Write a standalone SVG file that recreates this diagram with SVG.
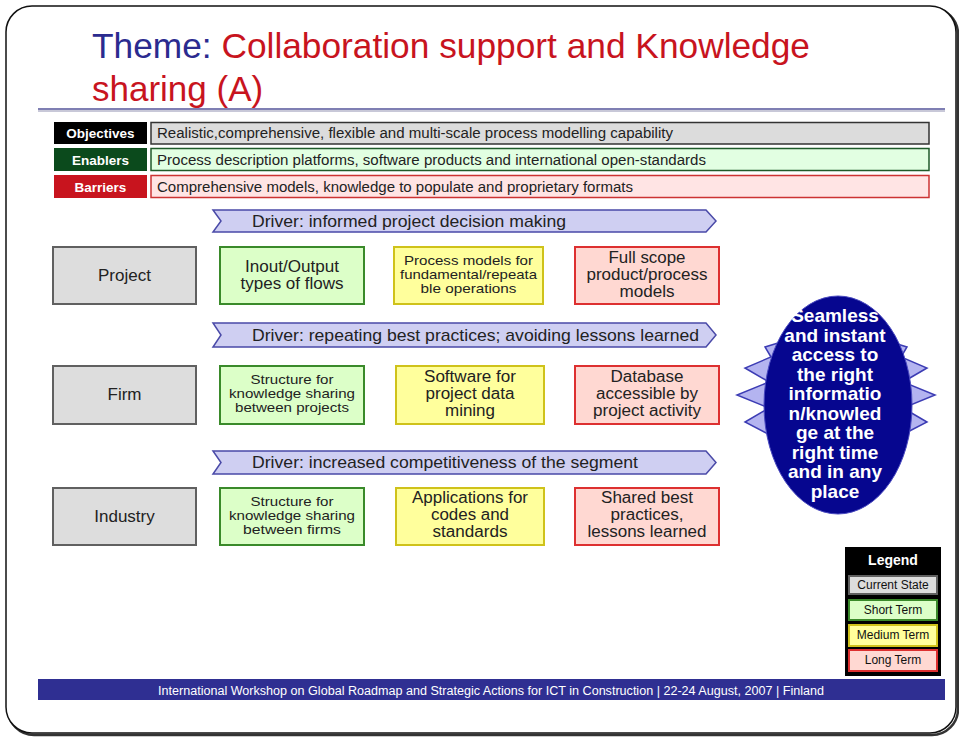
<svg xmlns="http://www.w3.org/2000/svg" width="959" height="738" viewBox="0 0 959 738">
<style>
text{font-family:"Liberation Sans",Arial,sans-serif}
.lbl{font-size:13.5px;font-weight:bold;fill:#fff;text-anchor:middle}
.row{font-size:14px;fill:#222}
.drv{fill:#cfcff2;stroke:#4a4aa8;stroke-width:1.5}
.drvt{font-size:17px;fill:#222}
.cur{fill:#dddddd;stroke:#606060;stroke-width:2}
.st{fill:#dcffc8;stroke:#3a8a2a;stroke-width:2}
.mt{fill:#ffff9c;stroke:#cfc21a;stroke-width:2}
.lt{fill:#ffd8d2;stroke:#dd3030;stroke-width:2}
.t17{font-size:17px;fill:#222;text-anchor:middle}
.t16{font-size:16px;fill:#222;text-anchor:middle}
.t13{font-size:13.5px;fill:#222;text-anchor:middle}
.oval{font-size:19px;font-weight:bold;fill:#fff;text-anchor:middle}
.leg{font-size:12px;fill:#111;text-anchor:middle}
</style>
<rect x="0" y="0" width="959" height="738" fill="#fff"/>
<rect x="8" y="8" width="950" height="727" rx="26" fill="none" stroke="#333" stroke-width="2.5"/>
<rect x="6" y="6" width="950" height="727" rx="26" fill="#fff" stroke="#111" stroke-width="1.5"/>

<g id="title">
<text x="92" y="58" font-size="35" fill="#2b2b8f" textLength="718" lengthAdjust="spacingAndGlyphs">Theme: <tspan fill="#c8141e">Collaboration support and Knowledge</tspan></text>
<text x="92" y="101" font-size="35" fill="#c8141e">sharing (A)</text>
<line x1="38" y1="111" x2="945" y2="111" stroke="#c8c8d8" stroke-width="2"/>
<line x1="38" y1="109" x2="945" y2="109" stroke="#55559a" stroke-width="1.5"/>
</g>

<g id="objectives">
<rect x="54" y="122" width="93" height="22" fill="#000"/>
<text class="lbl" x="100.5" y="138">Objectives</text>
<rect x="151" y="122.5" width="778" height="21.5" fill="#dcdcdc" stroke="#333" stroke-width="1.5"/>
<text class="row" x="157" y="138" textLength="516" lengthAdjust="spacingAndGlyphs">Realistic,comprehensive, flexible and multi-scale process modelling capability</text>
</g>
<g id="enablers">
<rect x="54" y="148" width="93" height="23" fill="#0b4a1c"/>
<text class="lbl" x="100.5" y="165">Enablers</text>
<rect x="151" y="148.5" width="778" height="22" fill="#e2ffe2" stroke="#1f5a2a" stroke-width="1.5"/>
<text class="row" x="157" y="165" textLength="549" lengthAdjust="spacingAndGlyphs">Process description platforms, software products and international open-standards</text>
</g>
<g id="barriers">
<rect x="54" y="175" width="93" height="23" fill="#c8141e"/>
<text class="lbl" x="100.5" y="192">Barriers</text>
<rect x="151" y="175.5" width="778" height="22" fill="#ffe4e4" stroke="#cc3333" stroke-width="1.5"/>
<text class="row" x="157" y="192" textLength="476" lengthAdjust="spacingAndGlyphs">Comprehensive models, knowledge to populate and proprietary formats</text>
</g>

<g id="driver1">
<polygon class="drv" points="213,210 706,210 716,221 706,232 213,232 221,221"/>
<text class="drvt" x="252" y="227" textLength="314" lengthAdjust="spacingAndGlyphs">Driver: informed project decision making</text>
</g>
<g id="driver2">
<polygon class="drv" points="213,323 706,323 716,335 706,347 213,347 221,335"/>
<text class="drvt" x="252" y="341" textLength="447" lengthAdjust="spacingAndGlyphs">Driver: repeating best practices; avoiding lessons learned</text>
</g>
<g id="driver3">
<polygon class="drv" points="213,451 706,451 716,462.5 706,474 213,474 221,462.5"/>
<text class="drvt" x="252" y="468" textLength="386" lengthAdjust="spacingAndGlyphs">Driver: increased competitiveness of the segment</text>
</g>

<g id="project">
<rect class="cur" x="53" y="247" width="143" height="57"/>
<text class="t17" x="124.5" y="281">Project</text>
</g>
<g id="project-short">
<rect class="st" x="220" y="247" width="144" height="57"/>
<text class="t16" x="292" y="272" textLength="94" lengthAdjust="spacingAndGlyphs">Inout/Output</text>
<text class="t16" x="292" y="289" textLength="103" lengthAdjust="spacingAndGlyphs">types of flows</text>
</g>
<g id="project-medium">
<rect class="mt" x="394" y="247" width="149" height="57"/>
<text class="t13" x="468.5" y="265" textLength="129" lengthAdjust="spacingAndGlyphs">Process models for</text>
<text class="t13" x="468.5" y="279" textLength="137" lengthAdjust="spacingAndGlyphs">fundamental/repeata</text>
<text class="t13" x="468.5" y="293" textLength="96" lengthAdjust="spacingAndGlyphs">ble operations</text>
</g>
<g id="project-long">
<rect class="lt" x="575" y="247" width="144" height="57"/>
<text class="t16" x="647" y="263" textLength="77" lengthAdjust="spacingAndGlyphs">Full scope</text>
<text class="t16" x="647" y="280" textLength="121" lengthAdjust="spacingAndGlyphs">product/process</text>
<text class="t16" x="647" y="297" textLength="55" lengthAdjust="spacingAndGlyphs">models</text>
</g>

<g id="firm">
<rect class="cur" x="53" y="366" width="143" height="58"/>
<text class="t17" x="124.5" y="400">Firm</text>
</g>
<g id="firm-short">
<rect class="st" x="220" y="366" width="144" height="58"/>
<text class="t13" x="292" y="384" textLength="83" lengthAdjust="spacingAndGlyphs">Structure for</text>
<text class="t13" x="292" y="398" textLength="126" lengthAdjust="spacingAndGlyphs">knowledge sharing</text>
<text class="t13" x="292" y="412" textLength="114" lengthAdjust="spacingAndGlyphs">between projects</text>
</g>
<g id="firm-medium">
<rect class="mt" x="396" y="366" width="148" height="58"/>
<text class="t16" x="470" y="382" textLength="92" lengthAdjust="spacingAndGlyphs">Software for</text>
<text class="t16" x="470" y="399" textLength="89" lengthAdjust="spacingAndGlyphs">project data</text>
<text class="t16" x="470" y="416" textLength="50" lengthAdjust="spacingAndGlyphs">mining</text>
</g>
<g id="firm-long">
<rect class="lt" x="575" y="366" width="144" height="58"/>
<text class="t16" x="647" y="382" textLength="73" lengthAdjust="spacingAndGlyphs">Database</text>
<text class="t16" x="647" y="399" textLength="102" lengthAdjust="spacingAndGlyphs">accessible by</text>
<text class="t16" x="647" y="416" textLength="108" lengthAdjust="spacingAndGlyphs">project activity</text>
</g>

<g id="industry">
<rect class="cur" x="53" y="488" width="143" height="57"/>
<text class="t17" x="124.5" y="522">Industry</text>
</g>
<g id="industry-short">
<rect class="st" x="220" y="488" width="144" height="57"/>
<text class="t13" x="292" y="506" textLength="83" lengthAdjust="spacingAndGlyphs">Structure for</text>
<text class="t13" x="292" y="520" textLength="126" lengthAdjust="spacingAndGlyphs">knowledge sharing</text>
<text class="t13" x="292" y="534" textLength="98" lengthAdjust="spacingAndGlyphs">between firms</text>
</g>
<g id="industry-medium">
<rect class="mt" x="396" y="488" width="148" height="57"/>
<text class="t16" x="470" y="503" textLength="116" lengthAdjust="spacingAndGlyphs">Applications for</text>
<text class="t16" x="470" y="520" textLength="78" lengthAdjust="spacingAndGlyphs">codes and</text>
<text class="t16" x="470" y="537" textLength="75" lengthAdjust="spacingAndGlyphs">standards</text>
</g>
<g id="industry-long">
<rect class="lt" x="575" y="488" width="144" height="57"/>
<text class="t16" x="647" y="503" textLength="92" lengthAdjust="spacingAndGlyphs">Shared best</text>
<text class="t16" x="647" y="520" textLength="73" lengthAdjust="spacingAndGlyphs">practices,</text>
<text class="t16" x="647" y="537" textLength="119" lengthAdjust="spacingAndGlyphs">lessons learned</text>
</g>

<g id="vision">
<polygon points="778,343 765,347 771,357 745,368 769,382 737,395 769,408 745,422 772,436 800,395" fill="#b4b4f0" stroke="#3c3cb4" stroke-width="1.5"/>
<polygon points="894,343 907,347 901,357 927,368 903,382 935,395 903,408 927,422 900,436 872,395" fill="#b4b4f0" stroke="#3c3cb4" stroke-width="1.5"/>
<ellipse cx="838" cy="405" rx="74" ry="109" fill="#06068f" stroke="#4a4ac0" stroke-width="1"/>
<text class="oval" x="835" y="322">Seamless</text>
<text class="oval" x="835" y="341.5">and instant</text>
<text class="oval" x="835" y="361">access to</text>
<text class="oval" x="835" y="380.5">the right</text>
<text class="oval" x="835" y="400">informatio</text>
<text class="oval" x="835" y="419.5">n/knowled</text>
<text class="oval" x="835" y="439">ge at the</text>
<text class="oval" x="835" y="458.5">right time</text>
<text class="oval" x="835" y="478">and in any</text>
<text class="oval" x="835" y="497.5">place</text>
</g>

<g id="legend">
<rect x="845" y="547" width="96" height="129" fill="#000"/>
<text x="893" y="565" font-size="14" font-weight="bold" fill="#fff" text-anchor="middle">Legend</text>
<rect class="cur" x="849" y="576" width="88" height="18"/>
<text class="leg" x="893" y="589">Current State</text>
<rect class="st" x="849" y="600" width="88" height="20"/>
<text class="leg" x="893" y="614">Short Term</text>
<rect class="mt" x="849" y="625" width="88" height="21"/>
<text class="leg" x="893" y="639">Medium Term</text>
<rect class="lt" x="849" y="650" width="88" height="21"/>
<text class="leg" x="893" y="664">Long Term</text>
</g>

<g id="footer">
<rect x="38" y="679" width="907" height="21" fill="#2f2f92"/>
<text x="491" y="695" font-size="12" fill="#fff" text-anchor="middle" textLength="666" lengthAdjust="spacingAndGlyphs">International Workshop on Global Roadmap and Strategic Actions for ICT in Construction | 22-24 August, 2007 | Finland</text>
</g>
</svg>
